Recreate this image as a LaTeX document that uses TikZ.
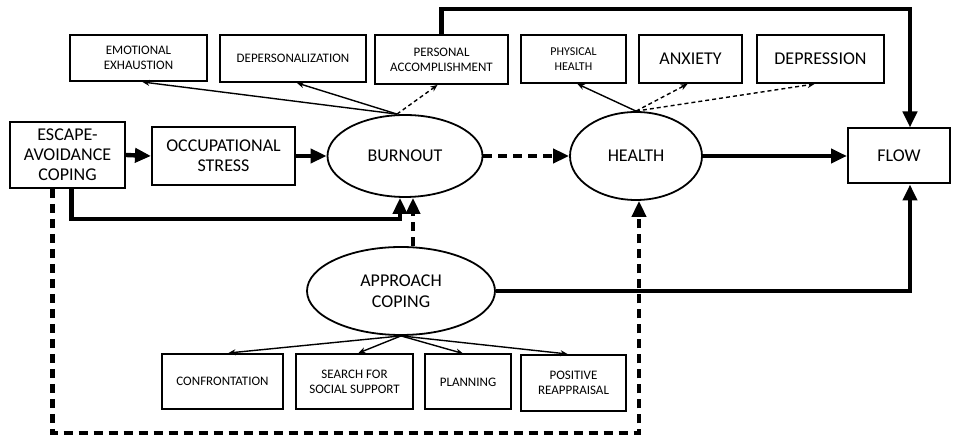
\documentclass[tikz,border=0pt]{standalone}
\usepackage{fontspec}
\setmainfont{Carlito}
\usetikzlibrary{calc}
\usetikzlibrary{arrows.meta}
\usetikzlibrary{shapes.geometric}
\tikzset{
  bigbox/.style={draw, line width=1pt, rectangle, align=center, inner sep=1pt,
                 font=\fontsize{9}{10}\selectfont},
  smallbox/.style={draw, line width=1pt, rectangle, align=center, inner sep=1pt,
                 font=\fontsize{6.5}{7.5}\selectfont},
  latent/.style={draw, line width=0.9pt, ellipse, align=center, inner sep=0pt,
                 font=\fontsize{9}{10.5}\selectfont},
  thickarrow/.style={line width=2.2pt, -{Triangle[length=8pt,width=7pt]}},
  thickdash/.style={thickarrow, dash pattern=on 4.5pt off 3pt},
  thinarrow/.style={line width=0.7pt, -{Stealth[length=3.5pt,width=3pt]}},
  thindash/.style={thinarrow, dash pattern=on 2pt off 1.5pt},
}

\begin{document}
\begin{tikzpicture}[x=0.5pt, y=-0.5pt]
    \useasboundingbox (0,0) rectangle (960,437);
    % main chain
    \node[bigbox, minimum width=57.5pt, minimum height=33pt]   (esc)    at ( 67.5,155.0) {ESCAPE-\\AVOIDANCE\\COPING};
    \node[bigbox, minimum width=71.5pt, minimum height=29pt]   (occ)    at (223.5,156.0) {OCCUPATIONAL\\STRESS};
    \node[latent, minimum width=77.5pt, minimum height=41pt]   (burn)   at (405.0,156.0) {BURNOUT};
    \node[latent, minimum width=66pt,   minimum height=44pt]   (health) at (636.0,156.0) {HEALTH};
    \node[bigbox, minimum width=51pt,   minimum height=27.5pt] (flow)   at (899.0,156.0) {FLOW};
    \node[latent, minimum width=94pt,   minimum height=44pt]   (app)    at (401.0,291.0) {APPROACH\\COPING};
    % burnout and health indicators
    \node[smallbox, minimum width=68.5pt, minimum height=23pt]   (ee)  at (138.5, 58.0) {EMOTIONAL\\EXHAUSTION};
    \node[smallbox, minimum width=73pt,   minimum height=23.5pt] (dep) at (293.0, 58.5) {DEPERSONALIZATION};
    \node[smallbox, minimum width=66.5pt, minimum height=24.5pt] (pa)  at (441.5, 59.5) {PERSONAL\\ACCOMPLISHMENT};
    \node[smallbox, minimum width=52.5pt, minimum height=24pt, font=\fontsize{6}{7.5}\selectfont] (ph)  at (573.5, 59.0) {PHYSICAL\\HEALTH};
    \node[bigbox,   minimum width=51.5pt, minimum height=24pt]   (anx) at (690.5, 59.0) {ANXIETY};
    \node[bigbox,   minimum width=63.5pt, minimum height=24pt]   (dpr) at (820.5, 59.0) {DEPRESSION};
    % approach coping indicators
    \node[smallbox, minimum width=60.5pt, minimum height=27.5pt] (conf) at (222.5,381.5) {CONFRONTATION};
    \node[smallbox, minimum width=58.5pt, minimum height=27.5pt] (ssup) at (354.5,381.5) {SEARCH FOR\\SOCIAL SUPPORT};
    \node[smallbox, minimum width=43pt,   minimum height=27.5pt] (plan) at (468.0,382.0) {PLANNING};
    \node[smallbox, minimum width=52.5pt, minimum height=28pt]   (pos)  at (573.5,383.0) {POSITIVE\\REAPPRAISAL};

    % structural paths
    \draw[thickarrow] (esc.east)    -- (occ.west);
    \draw[thickarrow] (occ.east)    -- (burn.west);
    \draw[thickdash]  (burn.east)   -- (health.west);
    \draw[thickarrow] (health.east) -- (flow.west);
    \draw[thickarrow] ([xshift=2pt]esc.south) -- ++(0,30) -| ([xshift=-2.5pt]burn.south);
    \draw[thickdash]  ([xshift=6pt]app.north) -- ([xshift=6pt]app.north |- burn.south);
    \draw[thickdash]  ([xshift=-7.5pt]esc.south) -- ++(0,244) -| ([xshift=1.5pt]health.south);
    \draw[thickarrow] (app.east) -| ([xshift=5.5pt]flow.south);
    \draw[thickarrow] (pa.north) -- ++(0,-25) -| ([xshift=5.5pt]flow.north);

    % measurement paths
    \draw[thinarrow] ([xshift=-4pt]burn.north) -- ([xshift=2pt]ee.south);
    \draw[thinarrow] ([xshift=-4pt]burn.north) -- ([xshift=2pt]dep.south);
    \draw[thindash]  ([xshift=-4pt]burn.north) -- ([xshift=-2pt]pa.south);
    \draw[thinarrow] (health.north) -- ([xshift=2pt]ph.south);
    \draw[thindash]  (health.north) -- ([xshift=-1.5pt]anx.south);
    \draw[thindash]  (health.north) -- ([xshift=-3pt]dpr.south);
    \draw[thinarrow] (app.south) -- ([xshift=3pt]conf.north);
    \draw[thinarrow] (app.south) -- ([xshift=2pt]ssup.north);
    \draw[thinarrow] (app.south) -- ([xshift=-2.5pt]plan.north);
    \draw[thinarrow] (app.south) -- ([xshift=-3pt]pos.north);
\end{tikzpicture}
\end{document}
